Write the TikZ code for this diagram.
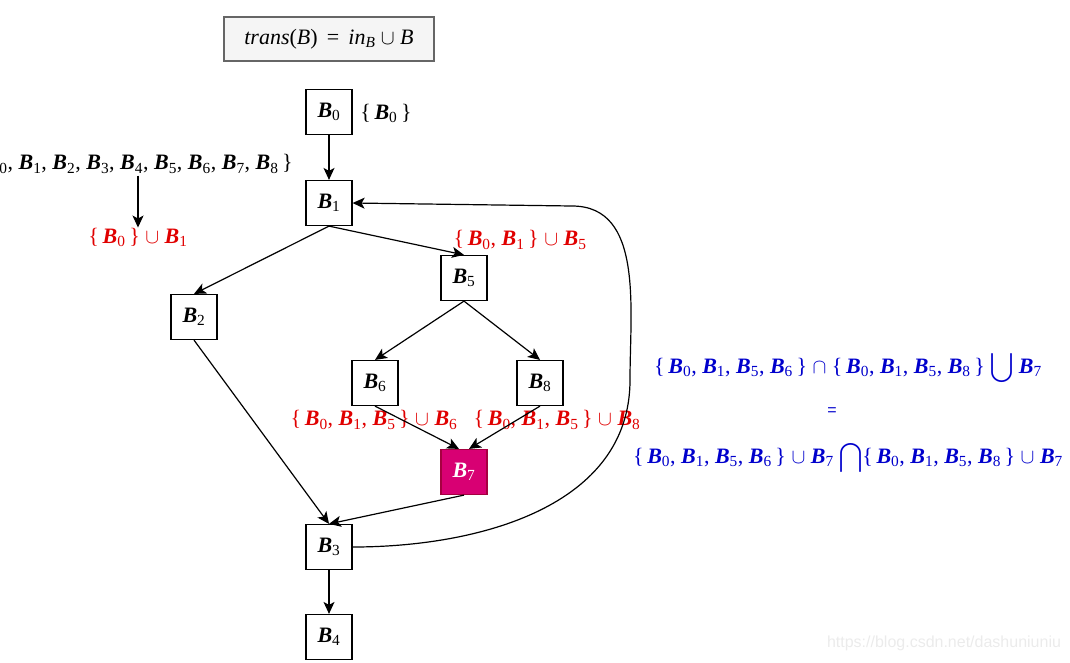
\documentclass[tikz,border=0pt]{standalone}
\usepackage{exscale}
\usepackage{fontspec}
\setmainfont{Liberation Serif}
\setsansfont{Liberation Sans}
\usetikzlibrary{arrows.meta}
\newcommand{\fs}{\fontsize{22}{26}\selectfont}
\newcommand{\bv}[1]{\textbf{\textit{B}}\textsubscript{#1}}
\definecolor{redtxt}{HTML}{E00000}
\definecolor{bluetxt}{HTML}{0000CC}
\definecolor{magfill}{HTML}{D80073}
\definecolor{magline}{HTML}{A50040}
\begin{document}
\begin{tikzpicture}[x=1pt,y=-1pt,
  blk/.style={draw=black, line width=1.2pt, minimum width=46pt, minimum height=45pt, inner sep=0pt, fill=white, font=\fs},
  arr/.style={-{Stealth[length=12pt,width=11pt,inset=3pt]}, line width=1.2pt},
  lbl/.style={inner sep=0pt, font=\fs},
  rtxt/.style={lbl, text=redtxt},
  btxt/.style={lbl, text=bluetxt}]
\useasboundingbox (0,0) rectangle (1070,662);
% formula box
\node[draw=black!60, fill=black!4, line width=1.2pt, minimum width=210pt, minimum height=44pt, font=\fs] (tr) at (329,39)
  {\textit{trans}(\textit{B}) \,=\, \textit{in}\textsubscript{\textit{B}} $\cup$ \textit{B}};
% blocks
\node[blk] (b0) at (329,112) {\bv0};
\node[blk] (b1) at (329,203) {\bv1};
\node[blk] (b2) at (194,317) {\bv2};
\node[blk] (b5) at (464,278) {\bv5};
\node[blk] (b6) at (375,383) {\bv6};
\node[blk] (b8) at (540,383) {\bv8};
\node[blk, fill=magfill, draw=magline, text=white] (b7) at (464,472) {\bv7};
\node[blk] (b3) at (329,547) {\bv3};
\node[blk] (b4) at (329,637) {\bv4};
% labels
\node[lbl] (s0) at (386,113) {\{\,\bv0\,\}};
\node[lbl, anchor=east] (all) at (293,164) {\{\,\bv0, \bv1, \bv2, \bv3, \bv4, \bv5, \bv6, \bv7, \bv8\,\}};
\node[rtxt] (r1) at (138,237) {\{\,\bv0\,\} $\cup$ \bv1};
\node[rtxt] (r5) at (520,240) {\{\,\bv0, \bv1\,\} $\cup$ \bv5};
\node[rtxt] (r6) at (374,420) {\{\,\bv0, \bv1, \bv5\,\} $\cup$ \bv6};
\node[rtxt] (r8) at (557,420) {\{\,\bv0, \bv1, \bv5\,\} $\cup$ \bv8};
\node[btxt] (l1) at (848,368) {\{\,\bv0, \bv1, \bv5, \bv6\,\} $\cap$ \{\,\bv0, \bv1, \bv5, \bv8\,\} $\displaystyle\bigcup$ \bv7};
\node[btxt, font=\fontsize{16}{18}\selectfont\sffamily] (eq) at (832,412) {=};
\node[btxt] (l2) at (848,458) {\{\,\bv0, \bv1, \bv5, \bv6\,\} $\cup$ \bv7 $\displaystyle\bigcap$\{\,\bv0, \bv1, \bv5, \bv8\,\} $\cup$ \bv7};
\node[inner sep=0pt, text=black!8, font=\fontsize{16}{18}\selectfont\sffamily] (wm) at (944,643) {https://blog.csdn.net/dashuniuniu};
% edges
\draw[arr] (b0) -- (b1);
\draw[arr] (b1.south) -- (b2.north);
\draw[arr] (b1.south) -- (b5.north);
\draw[arr] (b5.south) -- (b6.north);
\draw[arr] (b5.south) -- (b8.north);
\draw[arr] (b6.south) -- ([xshift=-5pt]b7.north);
\draw[arr] (b8.south) -- ([xshift=5pt]b7.north);
\draw[arr] (b2.south) -- (b3.north);
\draw[arr] (b7.south) -- (b3.north);
\draw[arr] (b3) -- (b4);
\coordinate (cr) at (630,380);
\coordinate (ct) at (572,206);
\draw[arr] (b3.east) to[out=0,in=-90] (cr) to[out=90,in=0] (ct) -- (b1.east);
\draw[arr] ([yshift=-2pt]r1.north |- all.south) -- (r1.north);
\end{tikzpicture}
\end{document}
